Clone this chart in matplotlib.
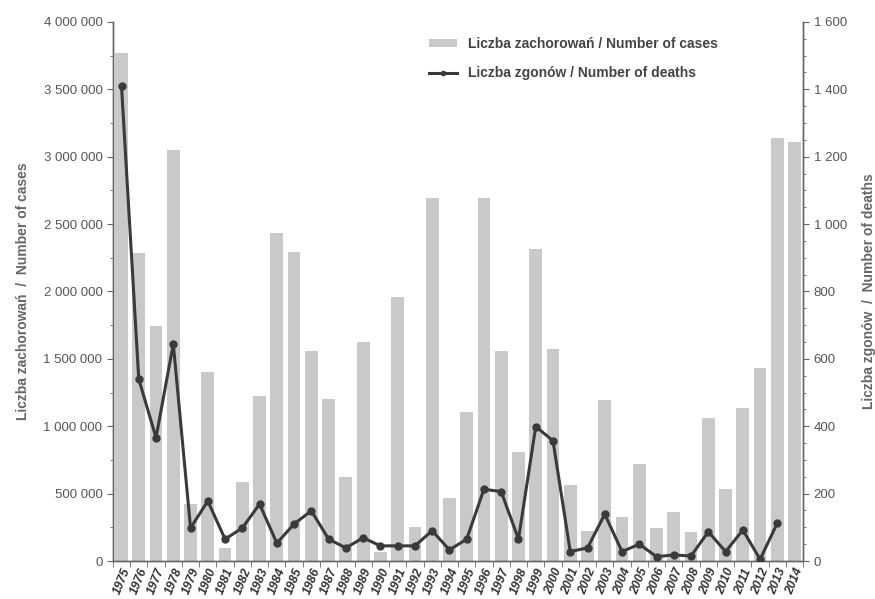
import matplotlib
matplotlib.use("Agg")
import matplotlib.pyplot as plt
from matplotlib.ticker import FuncFormatter, MultipleLocator
import numpy as np

plt.rcParams['font.family'] = ['Liberation Sans', 'DejaVu Sans']

years = list(range(1975, 2015))
cases = [3770000, 2285000, 1744000, 3050000, 420000, 1403000, 100000, 586000, 1225000, 2434000,
         2293000, 1560000, 1204000, 626000, 1627000, 70000, 1960000, 255000, 2694000, 467000,
         1108000, 2690000, 1561000, 811000, 2316000, 1573000, 564000, 225000, 1195000, 326000,
         720000, 245000, 363000, 217000, 1060000, 534000, 1135000, 1432000, 3140000, 3110000]
deaths = [1410, 540, 366, 644, 98, 178, 65, 98, 169, 53,
          110, 149, 65, 39, 69, 45, 45, 45, 90, 33,
          65, 213, 206, 65, 399, 357, 28, 39, 139, 28,
          50, 13, 18, 15, 87, 28, 92, 5, 113, np.nan]

label_cases = "Liczba zachorowań / Number of cases"
label_deaths = "Liczba zgonów / Number of deaths"
ylabel_left = "Liczba zachorowań  /  Number of cases"
ylabel_right = "Liczba zgonów  /  Number of deaths"

txt = '#555555'
fig = plt.figure(figsize=(8.75, 5.99), dpi=100)
ax = fig.add_axes([0.129, 0.0634, 0.789, 0.900])
ax2 = ax.twinx()

x = np.arange(len(years))
ax.bar(x, cases, width=0.74, color='#c9c9c9', label=label_cases, zorder=1)
ax2.plot(x, deaths, color='#3a3a3a', lw=2.2, marker='o', ms=5, label=label_deaths, zorder=3)

ax.set_xlim(-0.5, len(years) - 0.5)
ax.set_ylim(0, 4000000)
ax2.set_ylim(0, 1600)

ax.yaxis.set_major_locator(MultipleLocator(500000))
ax.yaxis.set_minor_locator(MultipleLocator(250000))
ax.yaxis.set_major_formatter(FuncFormatter(lambda v, p: f"{int(v):,}".replace(",", " ")))
ax2.yaxis.set_major_locator(MultipleLocator(200))
ax2.yaxis.set_minor_locator(MultipleLocator(50))
ax2.yaxis.set_major_formatter(FuncFormatter(lambda v, p: f"{int(v):,}".replace(",", " ")))

ax.set_xticks(x)
ax.set_xticklabels([str(y) for y in years], rotation=68, ha='right', rotation_mode='anchor',
                   fontsize=8.8, fontweight='bold', color='#333333', fontstyle='italic')
ax.set_xticks(np.arange(-0.5, len(years), 1), minor=True)
ax.tick_params(axis='x', which='major', length=0, pad=4)
ax.tick_params(axis='x', which='minor', length=4, color='#666666')

ax.tick_params(axis='y', which='major', labelsize=9.5, labelcolor=txt, length=4, color='#666666')
ax.tick_params(axis='y', which='minor', length=2.5, color='#666666')
ax2.tick_params(axis='y', which='major', labelsize=9.5, labelcolor=txt, length=4, color='#666666')
ax2.tick_params(axis='y', which='minor', length=2.5, color='#666666')

for a in (ax, ax2):
    a.spines['top'].set_visible(False)
    for s in ('left', 'right', 'bottom'):
        a.spines[s].set_color('#666666')
        a.spines[s].set_linewidth(1.0)

ax.set_ylabel(ylabel_left, fontsize=10, fontweight='bold', color='#666666', labelpad=10)
ax2.set_ylabel(ylabel_right, fontsize=10, fontweight='bold', color='#666666', labelpad=11)

h1, l1 = ax.get_legend_handles_labels()
h2, l2 = ax2.get_legend_handles_labels()
leg = ax2.legend(h1 + h2, l1 + l2, loc='upper left', bbox_to_anchor=(0.44, 0.995), frameon=False,
                 prop={'size': 10, 'weight': 'bold'}, handlelength=2.0, handleheight=0.5,
                 labelspacing=1.1, markerscale=0.6)
for t in leg.get_texts():
    t.set_color('#444444')

fig.savefig('out.png', dpi=100)
